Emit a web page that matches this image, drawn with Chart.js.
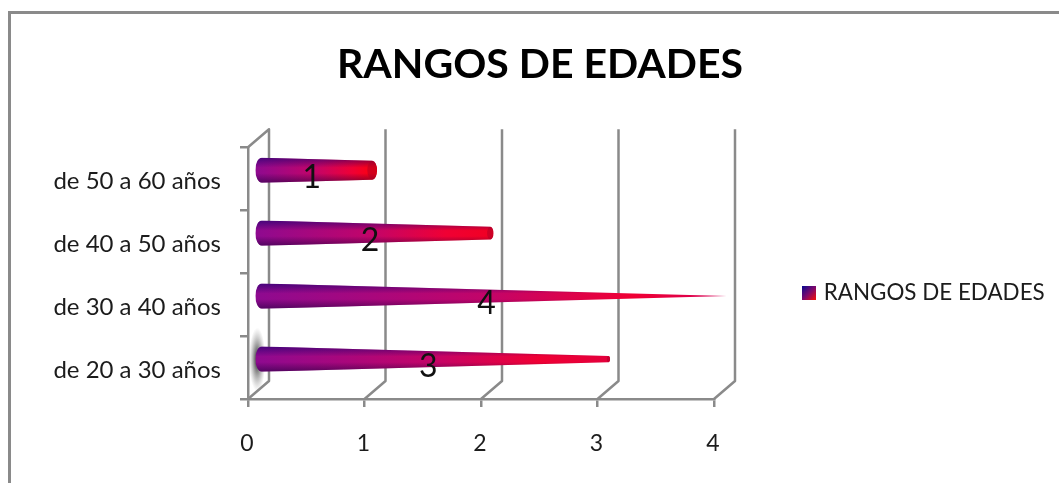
<!DOCTYPE html>
<html lang="es">
<head>
<meta charset="UTF-8">
<title>Rangos de edades</title>
<script src="https://cdn.jsdelivr.net/npm/chart.js"></script>
<style>
  html, body { margin: 0; padding: 0; background: #fff; }
  #wrap { width: 1059px; height: 483px; }
</style>
</head>
<body>
<div id="wrap"><canvas id="chart" width="1059" height="483"></canvas></div>
<script>
const chartTitle = 'RANGOS DE EDADES';
const seriesName = 'RANGOS DE EDADES';
const categories = ['de 20 a 30 años', 'de 30 a 40 años', 'de 40 a 50 años', 'de 50 a 60 años'];
const seriesValues = [3, 4, 2, 1];
const axisMax = 4;

const lineGrey = '#8a8a8a';
const textColor = '#1c1c1c';
const fontFamily = 'Lato, "Open Sans", sans-serif';
// depth of the fake 3D floor
const depthX = 21;
const depthY = -18;

// small square swatch for the legend
const swatch = document.createElement('canvas');
swatch.width = 14;
swatch.height = 14;
const sw = swatch.getContext('2d');
const swGrad = sw.createLinearGradient(0, 0, 14, 14);
swGrad.addColorStop(0, '#0a0a90');
swGrad.addColorStop(0.5, '#80086a');
swGrad.addColorStop(1, '#ff1000');
sw.fillStyle = swGrad;
sw.fillRect(0, 0, 14, 14);

const framePlugin = {
  id: 'frame',
  beforeDraw(chart) {
    const c = chart.ctx;
    c.save();
    c.strokeStyle = lineGrey;
    c.lineWidth = 3;
    c.beginPath();
    c.moveTo(9.5, 483);
    c.lineTo(9.5, 12.5);
    c.lineTo(1059, 12.5);
    c.stroke();
    c.restore();
  }
};

// back wall: the slanted floor lines and the upright lines behind the cones
const wallPlugin = {
  id: 'wall',
  beforeDatasetsDraw(chart) {
    const c = chart.ctx;
    const xs = chart.scales.x;
    const { top, bottom } = chart.chartArea;
    c.save();
    c.strokeStyle = lineGrey;
    c.lineWidth = 2.5;
    c.lineJoin = 'round';
    for (let v = 0; v <= axisMax; v++) {
      const px = xs.getPixelForValue(v);
      c.beginPath();
      c.moveTo(px, bottom);
      c.lineTo(px + depthX, bottom + depthY);
      c.lineTo(px + depthX, top + depthY);
      if (v === 0) c.lineTo(px, top);
      c.stroke();
    }
    c.restore();
  }
};

function drawCone(c, bar, value) {
  const shiftX = depthX * 0.6;
  const cy = bar.y + depthY * 0.47;
  const x0 = bar.base + shiftX;
  const h0 = bar.height / 2;
  const h1 = h0 * (1 - value / axisMax);
  const rx0 = 6.5;
  const rx1 = rx0 * (h1 / h0);
  const x1 = bar.x + shiftX - rx1;

  c.save();
  c.beginPath();
  c.moveTo(x0, cy - h0);
  c.lineTo(x1, cy - h1);
  if (h1 > 0) c.ellipse(x1, cy, rx1, h1, 0, -Math.PI / 2, Math.PI / 2);
  c.lineTo(x0, cy + h0);
  c.ellipse(x0, cy, rx0, h0, 0, Math.PI / 2, Math.PI * 1.5);
  c.closePath();
  c.clip();

  // longer cones end a little more crimson than the short ones
  const tipColor = `rgb(${255 - (value - 1) * 14},0,${8 + (value - 1) * 26})`;
  const along = c.createLinearGradient(x0 - rx0, 0, x1 + rx1, 0);
  along.addColorStop(0, '#8e0a90');
  along.addColorStop(0.5, '#c40468');
  along.addColorStop(0.8, '#f00034');
  along.addColorStop(1, tipColor);
  c.fillStyle = along;
  c.fillRect(x0 - rx0, cy - h0, x1 - x0 + rx0 + rx1, h0 * 2);

  // round shading across the cone
  const across = c.createLinearGradient(0, cy - h0, 0, cy + h0);
  across.addColorStop(0, 'rgba(20,0,110,0.6)');
  across.addColorStop(0.4, 'rgba(20,0,110,0)');
  across.addColorStop(0.62, 'rgba(30,0,60,0)');
  across.addColorStop(1, 'rgba(30,0,60,0.55)');
  c.fillStyle = across;
  c.fillRect(x0 - rx0, cy - h0, x1 - x0 + rx0 + rx1, h0 * 2);

  if (h1 > 0) {
    c.fillStyle = 'rgba(170,0,40,0.5)';
    c.beginPath();
    c.ellipse(x1, cy, rx1, h1, 0, 0, Math.PI * 2);
    c.fill();
  }
  c.restore();
}

const conePlugin = {
  id: 'cones',
  afterDatasetsDraw(chart) {
    const c = chart.ctx;
    const bars = chart.getDatasetMeta(0).data;
    // grey smudge behind the lowest cone
    const first = bars[0];
    const sx = first.base + 8;
    const sy = first.y - 8;
    c.save();
    c.translate(sx, sy);
    c.scale(0.26, 1);
    const smudge = c.createRadialGradient(0, 0, 8, 0, 0, 32);
    smudge.addColorStop(0, 'rgba(95,95,95,0.95)');
    smudge.addColorStop(1, 'rgba(160,160,160,0)');
    c.fillStyle = smudge;
    c.beginPath();
    c.arc(0, 0, 32, 0, Math.PI * 2);
    c.fill();
    c.restore();

    bars.forEach((bar, i) => drawCone(c, bar, seriesValues[i]));

    // value printed at the middle of each cone
    c.save();
    c.fillStyle = '#111';
    c.font = '32px ' + fontFamily;
    c.textAlign = 'center';
    c.textBaseline = 'middle';
    bars.forEach((bar, i) => {
      c.fillText(String(seriesValues[i]), (bar.base + bar.x) / 2 + 5, bar.y - 1);
    });
    c.restore();
  }
};

const layoutPlugin = {
  id: 'legendPlace',
  beforeInit(chart) {
    // keep the plot area free of the legend's real width
    const fit = chart.legend.fit;
    chart.legend.fit = function () {
      fit.call(this);
      this.width = 345;
    };
  },
  afterLayout(chart) {
    chart.legend.left = 796;
    chart.legend.right = 1059;
    chart.legend.top = 272;
    chart.legend.bottom = 317;
  }
};

new Chart(document.getElementById('chart'), {
  type: 'bar',
  data: {
    labels: categories,
    datasets: [{
      label: seriesName,
      data: seriesValues,
      backgroundColor: 'rgba(0,0,0,0)',
      borderWidth: 0,
      pointStyle: swatch,
      categoryPercentage: 0.4,
      barPercentage: 1
    }]
  },
  options: {
    indexAxis: 'y',
    responsive: false,
    animation: false,
    layout: { padding: { left: 21, right: 0, top: 0, bottom: 0 } },
    plugins: {
      title: {
        display: true,
        text: chartTitle,
        color: '#000',
        font: { family: fontFamily, size: 41, weight: 'bold' },
        padding: { top: 40, bottom: 58 }
      },
      legend: {
        position: 'right',
        align: 'start',
        labels: {
          usePointStyle: true,
          pointStyleWidth: 6.6,
          color: textColor,
          font: { family: fontFamily, size: 22.4 },
          padding: 10
        }
      },
      tooltip: { enabled: false }
    },
    scales: {
      x: {
        min: 0,
        max: axisMax,
        afterFit(scale) { scale.height = 84; },
        border: { color: lineGrey, width: 2.5 },
        grid: { drawOnChartArea: false, color: lineGrey, lineWidth: 2.5, tickLength: 8 },
        ticks: {
          stepSize: 1,
          color: textColor,
          padding: 23,
          labelOffset: -1,
          maxRotation: 0,
          font: { family: fontFamily, size: 23 }
        }
      },
      y: {
        reverse: true,
        afterFit(scale) { scale.width = 227; },
        border: { color: lineGrey, width: 2.5 },
        grid: { drawOnChartArea: false, color: lineGrey, lineWidth: 2.5, tickLength: 8 },
        ticks: {
          color: textColor,
          padding: 19,
          labelOffset: 3,
          font: { family: fontFamily, size: 24 }
        }
      }
    }
  },
  plugins: [framePlugin, wallPlugin, conePlugin, layoutPlugin]
});
</script>
</body>
</html>
